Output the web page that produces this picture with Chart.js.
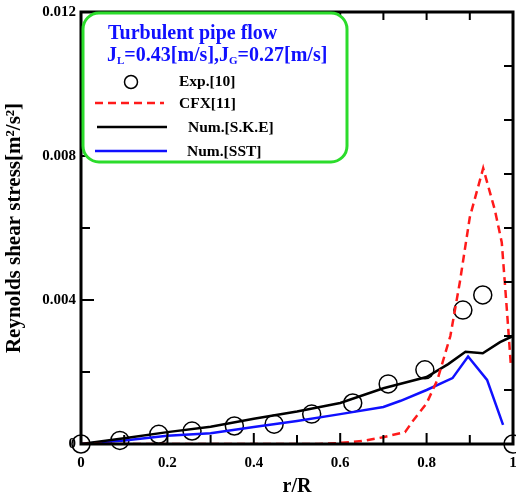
<!DOCTYPE html>
<html>
<head>
<meta charset="utf-8">
<script src="https://cdn.jsdelivr.net/npm/chart.js@4.4.1/dist/chart.umd.min.js"></script>
<style>
  body { margin: 0; background: #fff; }
  #grafico { display: block; }
</style>
</head>
<body>
<canvas id="grafico" width="516" height="500"></canvas>
<script>
// datos //
const rExp = [0, 0.09, 0.18, 0.257, 0.355, 0.447, 0.534, 0.629, 0.711, 0.796, 0.884, 0.93, 1.0];
const valExp = [0, 0.0001, 0.00027, 0.00036, 0.0005, 0.00055, 0.00083, 0.00114, 0.00167, 0.00206, 0.00372, 0.00414, 0];

const rCfx = [0, 0.55, 0.6, 0.65, 0.7, 0.75, 0.77, 0.8, 0.825, 0.855, 0.877, 0.9, 0.931, 0.958, 0.974, 0.986, 0.995];
const valCfx = [0, 0, 0.00003, 0.00008, 0.00019, 0.00033, 0.00067, 0.00113, 0.00178, 0.003, 0.0045, 0.0063, 0.00766, 0.0065, 0.0056, 0.0037, 0.0022];

const rSke = [0, 0.1, 0.2, 0.3, 0.4, 0.5, 0.6, 0.7, 0.8, 0.85, 0.89, 0.93, 0.97, 1.0];
const valSke = [0, 0.00016, 0.00033, 0.00048, 0.0007, 0.0009, 0.00114, 0.00155, 0.00186, 0.00222, 0.00256, 0.00252, 0.00283, 0.003];

const rSst = [0, 0.1, 0.2, 0.3, 0.4, 0.5, 0.6, 0.7, 0.74, 0.8, 0.86, 0.896, 0.94, 0.977];
const valSst = [0, 0.0001, 0.00023, 0.0003, 0.00047, 0.00064, 0.00083, 0.00103, 0.0012, 0.0015, 0.00183, 0.00243, 0.00178, 0.00053];

const ticksX = [0, 0.2, 0.4, 0.6, 0.8, 1];
const ticksY = [0, 0.004, 0.008, 0.012];

const fuente = "'Liberation Serif', 'Times New Roman', serif";

function puntos(xs, ys) {
  return xs.map((x, i) => ({ x: x, y: ys[i] }));
}

// marco, marcas hacia dentro y cuadro de leyenda //
const marcoPlugin = {
  id: "marco",
  afterDraw(chart) {
    const ctx = chart.ctx;
    const a = chart.chartArea;
    const sx = chart.scales.x;
    const sy = chart.scales.y;
    ctx.save();
    ctx.strokeStyle = "#000";
    ctx.lineWidth = 2;
    ctx.beginPath();
    for (let k = 1; k < 10; k++) {
      const px = sx.getPixelForValue(k / 10);
      const largo = k % 2 === 0 ? 11 : 9;
      ctx.moveTo(px, a.bottom); ctx.lineTo(px, a.bottom - largo);
      ctx.moveTo(px, a.top); ctx.lineTo(px, a.top + 8);
    }
    for (let k = 1; k < 6; k++) {
      const py = sy.getPixelForValue(k * 0.002);
      const largo = k % 2 === 0 ? 13 : 9;
      ctx.moveTo(a.left, py); ctx.lineTo(a.left + largo, py);
    }
    for (let k = 1; k < 8; k++) {
      const py = sy.getPixelForValue(k * 0.0015);
      ctx.moveTo(a.right, py); ctx.lineTo(a.right - 9, py);
    }
    ctx.stroke();
    ctx.lineWidth = 3;
    ctx.strokeRect(a.left, a.top, a.right - a.left, a.bottom - a.top);

    // Leyenda //
    const x0 = 83, y0 = 13, w = 264, h = 149, rad = 16;
    ctx.beginPath();
    ctx.roundRect(x0, y0, w, h, rad);
    ctx.fillStyle = "#fff";
    ctx.fill();
    ctx.strokeStyle = "#2bdc2b";
    ctx.lineWidth = 3;
    ctx.stroke();

    ctx.fillStyle = "#1010ff";
    ctx.textBaseline = "middle";
    ctx.textAlign = "left";
    ctx.font = "bold 20px " + fuente;
    ctx.fillText("Turbulent pipe flow", 108, 34);

    let cx = 107;
    const yl = 56;
    const partes = [["J", 20, 0], ["L", 11, 5], ["=0.43[m/s],J", 20, 0], ["G", 11, 5], ["=0.27[m/s]", 20, 0]];
    partes.forEach(([t, tam, dy]) => {
      ctx.font = "bold " + tam + "px " + fuente;
      ctx.fillText(t, cx, yl + dy);
      cx += ctx.measureText(t).width;
    });

    ctx.fillStyle = "#000";
    ctx.font = "bold 15.5px " + fuente;
    ctx.fillText("Exp.[10]", 179, 82);
    ctx.fillText("CFX[11]", 179, 104);
    ctx.fillText("Num.[S.K.E]", 188, 128);
    ctx.fillText("Num.[SST]", 187, 152);

    ctx.lineWidth = 1.5;
    ctx.strokeStyle = "#000";
    ctx.beginPath();
    ctx.arc(131, 82, 6.5, 0, Math.PI * 2);
    ctx.stroke();

    ctx.lineWidth = 2.5;
    ctx.strokeStyle = "#ff1a1a";
    ctx.setLineDash([8, 5]);
    ctx.beginPath(); ctx.moveTo(95, 103); ctx.lineTo(164, 103); ctx.stroke();
    ctx.setLineDash([]);
    ctx.strokeStyle = "#000";
    ctx.beginPath(); ctx.moveTo(97, 127); ctx.lineTo(167, 127); ctx.stroke();
    ctx.strokeStyle = "#1010ff";
    ctx.beginPath(); ctx.moveTo(95, 151); ctx.lineTo(167, 151); ctx.stroke();
    ctx.restore();
  }
};

new Chart(document.getElementById("grafico"), {
  type: "scatter",
  data: {
    datasets: [
      {
        label: "CFX[11]",
        data: puntos(rCfx, valCfx),
        showLine: true,
        borderColor: "#ff1a1a",
        borderWidth: 2.5,
        borderDash: [8, 5],
        pointRadius: 0,
        tension: 0
      },
      {
        label: "Num.[S.K.E]",
        data: puntos(rSke, valSke),
        showLine: true,
        borderColor: "#000",
        borderWidth: 2.5,
        pointRadius: 0,
        tension: 0
      },
      {
        label: "Num.[SST]",
        data: puntos(rSst, valSst),
        showLine: true,
        borderColor: "#1010ff",
        borderWidth: 2.5,
        pointRadius: 0,
        tension: 0
      },
      {
        label: "Exp.[10]",
        data: puntos(rExp, valExp),
        showLine: false,
        borderColor: "#000",
        backgroundColor: "rgba(0,0,0,0)",
        borderWidth: 1.5,
        pointRadius: 9,
        clip: false
      }
    ]
  },
  options: {
    responsive: false,
    animation: false,
    layout: { autoPadding: false, padding: { top: 12, right: 3, bottom: 0, left: 0 } },
    plugins: {
      legend: { display: false },
      tooltip: { enabled: false }
    },
    scales: {
      x: {
        type: "linear",
        min: 0,
        max: 1,
        afterFit: (s) => { s.height = 56; s.paddingLeft = 0; s.paddingRight = 0; },
        afterBuildTicks: (s) => { s.ticks = ticksX.map(v => ({ value: v })); },
        grid: { display: false, drawTicks: false },
        border: { display: false },
        ticks: {
          color: "#000",
          padding: 10,
          maxRotation: 0,
          font: { family: fuente, size: 15, weight: "bold" },
          callback: (v) => (v === 0 || v === 1) ? String(v) : v.toFixed(1)
        },
        title: {
          display: true,
          text: "r/R",
          color: "#000",
          padding: { top: 0, bottom: 1 },
          font: { family: fuente, size: 20, weight: "bold" }
        }
      },
      y: {
        type: "linear",
        min: 0,
        max: 0.012,
        afterFit: (s) => { s.width = 81; s.paddingTop = 0; s.paddingBottom = 0; },
        afterBuildTicks: (s) => { s.ticks = ticksY.map(v => ({ value: v })); },
        grid: { display: false, drawTicks: false },
        border: { display: false },
        ticks: {
          color: "#000",
          padding: 5,
          font: { family: fuente, size: 15, weight: "bold" },
          callback: (v) => v === 0 ? "0" : v.toFixed(3)
        },
        title: {
          display: true,
          text: "Reynolds shear stress[m\u00b2/s\u00b2]",
          color: "#000",
          padding: { top: 2, bottom: 0 },
          font: { family: fuente, size: 21, weight: "bold" }
        }
      }
    }
  },
  plugins: [marcoPlugin]
});
</script>
</body>
</html>
